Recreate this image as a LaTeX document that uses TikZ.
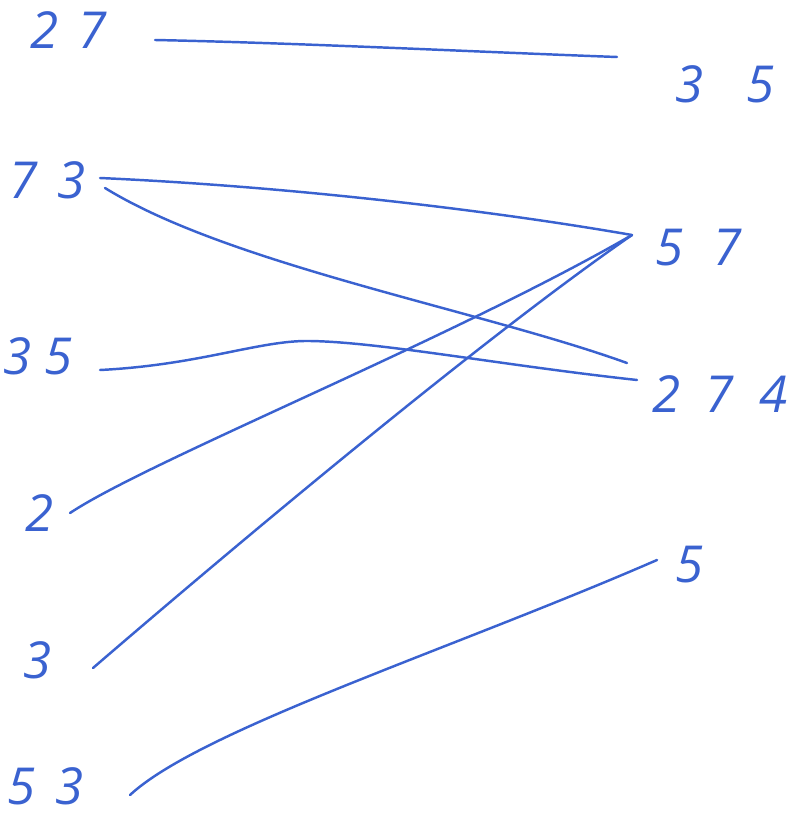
\documentclass[tikz,border=0pt]{standalone}
\usepackage{fontspec}
\setmainfont{Open Sans}
\definecolor{ink}{RGB}{58,98,208}

\begin{document}
\begin{tikzpicture}[
    x=0.02cm, y=-0.02cm,
    every node/.style={font=\fontsize{29}{31}\selectfont\itshape, text=ink, inner sep=1pt},
    pen/.style={draw=ink, line width=1.4pt, line cap=round}
]

\useasboundingbox (0,0) rectangle (787,821);

% left labels
\node (l27)  at (69, 30)   {2\hspace{0.4cm}7};
\node (l73)  at (48, 180)  {7\hspace{0.4cm}3};
\node (l35)  at (38, 356)  {3\hspace{0.25cm}5};
\node (l2)   at (40, 513)  {2};
\node (l3)   at (38, 660)  {3};
\node (l53)  at (46, 786)  {5\hspace{0.4cm}3};

% right labels
\node (r35)  at (725, 84)  {3\hspace{0.85cm}5};
\node (r57)  at (699, 248) {5\hspace{0.6cm}7};
\node (r274) at (720, 394) {2\hspace{0.5cm}7\hspace{0.5cm}4};
\node (r5)   at (690, 565) {5};

% line ends
\coordinate (a27)  at (155, 40);
\coordinate (a73)  at (100, 178);
\coordinate (b73)  at (105, 188);
\coordinate (a35)  at (100, 370);
\coordinate (m35)  at (310, 341);
\coordinate (a2)   at (70, 513);
\coordinate (a3)   at (93, 668);
\coordinate (a53)  at (130, 795);
\coordinate (e35)  at (617, 57);
\coordinate (e57)  at (632, 235);
\coordinate (e274) at (627, 363);
\coordinate (f274) at (637, 380);
\coordinate (e5)   at (657, 560);

% connectors
\draw[pen] (a27) .. controls (300,43) and (480,52) .. (e35);
\draw[pen] (a73) .. controls (300,187) and (500,212) .. (e57);
\draw[pen] (b73) .. controls (230,265) and (480,310) .. (e274);
\draw[pen] (a35) .. controls (200,365) and (260,340) .. (m35)
               .. controls (380,342) and (500,365) .. (f274);
\draw[pen] (a2) .. controls (150,460) and (450,340) .. (e57);
\draw[pen] (a3) .. controls (230,550) and (480,340) .. (e57);
\draw[pen] (a53) .. controls (200,730) and (450,650) .. (e5);

\end{tikzpicture}
\end{document}
